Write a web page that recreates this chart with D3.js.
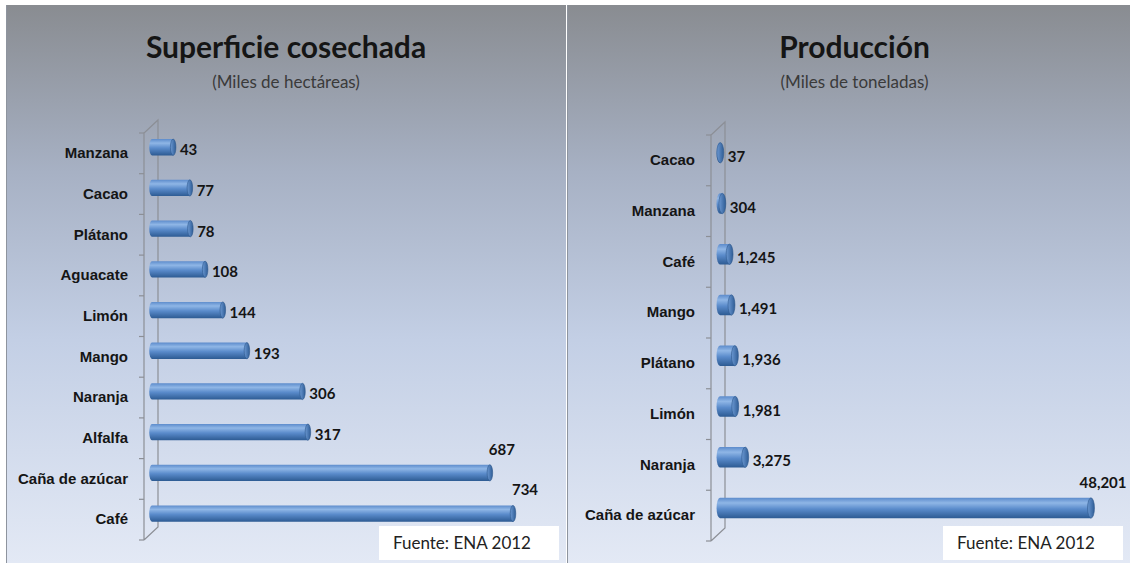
<!DOCTYPE html>
<html lang="es">
<meta charset="utf-8">
<style>
body { margin: 0; background: #fff; }
svg { display: block; font-family: Lato, "Open Sans", sans-serif; }
.title { font-size: 30px; font-weight: bold; fill: #151515; }
.subtitle { font-size: 17px; fill: #3a3a3a; }
.cat { font-size: 15px; font-weight: bold; fill: #151515; }
.val { font-size: 15px; font-weight: bold; fill: #151515; }
.wall { fill: none; stroke: #8c8f96; stroke-width: 1.2; }
.src { font-size: 17px; fill: #222; }
</style>
<body>
<svg width="1130" height="563"></svg>
<script src="https://d3js.org/d3.v7.min.js"></script>
<script>

// left chart: harvested area (thousand ha)
var areaCrops = ["Manzana", "Cacao", "Plátano", "Aguacate", "Limón", "Mango", "Naranja", "Alfalfa", "Caña de azúcar", "Café"];
var areaValues = [43, 77, 78, 108, 144, 193, 306, 317, 687, 734];

// right chart: production (thousand t)
var prodCrops = ["Cacao", "Manzana", "Café", "Mango", "Plátano", "Limón", "Naranja", "Caña de azúcar"];
var prodValues = [37, 304, 1245, 1491, 1936, 1981, 3275, 48201];

var titles = ["Superficie cosechada", "Producción"];
var subtitles = ["(Miles de hectáreas)", "(Miles de toneladas)"];
var source = "Fuente: ENA 2012";

var svg = d3.select("svg");
var defs = svg.append("defs");

var bg = defs.append("linearGradient").attr("id", "bg")
    .attr("x1", 0).attr("y1", 0).attr("x2", 0).attr("y2", 1);
bg.append("stop").attr("offset", "0%").attr("stop-color", "#898c91");
bg.append("stop").attr("offset", "30%").attr("stop-color", "#a7b1c4");
bg.append("stop").attr("offset", "60%").attr("stop-color", "#c3cfe5");
bg.append("stop").attr("offset", "100%").attr("stop-color", "#e3e9f5");

var cyl = defs.append("linearGradient").attr("id", "cyl")
    .attr("x1", 0).attr("y1", 0).attr("x2", 0).attr("y2", 1);
cyl.append("stop").attr("offset", "0%").attr("stop-color", "#5d8ccc");
cyl.append("stop").attr("offset", "25%").attr("stop-color", "#8fb6e6");
cyl.append("stop").attr("offset", "55%").attr("stop-color", "#5a8bcb");
cyl.append("stop").attr("offset", "100%").attr("stop-color", "#2d5b93");

var cap = defs.append("linearGradient").attr("id", "cap")
    .attr("x1", 0).attr("y1", 0).attr("x2", 1).attr("y2", 0);
cap.append("stop").attr("offset", "0%").attr("stop-color", "#6b98d2");
cap.append("stop").attr("offset", "100%").attr("stop-color", "#2f5d96");

svg.append("rect").attr("x", 0).attr("y", 0).attr("width", 1130).attr("height", 563).attr("fill", "#fff");

var fmt = d3.format(",");

function panel(opts) {
  var g = svg.append("g");

  g.append("rect")
      .attr("x", opts.left).attr("y", 5)
      .attr("width", opts.right - opts.left).attr("height", 563 - 5)
      .attr("fill", "url(#bg)");
  g.append("line")
      .attr("x1", opts.left + 0.5).attr("x2", opts.left + 0.5)
      .attr("y1", 5).attr("y2", 563)
      .attr("stroke", "#8e949e").attr("stroke-width", 1);

  var cx = (opts.left + opts.right) / 2 + opts.titleShift;
  g.append("text").attr("class", "title")
      .attr("x", cx).attr("y", 58).attr("text-anchor", "middle")
      .text(opts.title);
  g.append("text").attr("class", "subtitle")
      .attr("x", cx).attr("y", 88).attr("text-anchor", "middle")
      .text(opts.subtitle);

  var y = d3.scaleBand()
      .domain(opts.cats)
      .range([opts.top, opts.bottom])
      .paddingInner(0).paddingOuter(0);

  var x = d3.scaleLinear()
      .domain([0, d3.max(opts.values)])
      .range([opts.x0, opts.x1]);

  var step = y.step(),
      bh = step * 0.4,
      lift = step * 0.15,
      rx = bh * 0.17,
      dx = 14, dy = 13;

  // 3d wall of the category axis
  var f = opts.axisX;
  g.append("path").attr("class", "wall")
      .attr("d", "M" + f + "," + opts.bottom + "V" + opts.top +
                 "L" + (f + dx) + "," + (opts.top - dy) +
                 "V" + (opts.bottom - dy) + "L" + f + "," + opts.bottom);
  g.selectAll(".tk")
      .data(d3.range(opts.cats.length + 1))
    .enter().append("line")
      .attr("x1", f - 5).attr("x2", f)
      .attr("y1", function(i) { return opts.top + i * step; })
      .attr("y2", function(i) { return opts.top + i * step; })
      .attr("stroke", "#8c8f96").attr("stroke-width", 1.2);

  // category labels
  g.append("g")
      .attr("transform", "translate(" + (f - 12) + ",0)")
      .call(d3.axisLeft(y).tickSize(0).tickPadding(4))
      .call(function(a) { a.select(".domain").remove(); })
      .selectAll("text")
      .attr("class", "cat")
      .attr("fill", null)
      .attr("font-family", null).attr("font-size", null);

  var rows = opts.cats.map(function(c, i) { return {cat: c, v: opts.values[i]}; });

  var bar = g.selectAll(".bar").data(rows).enter().append("g")
      .attr("transform", function(d) { return "translate(0," + (y(d.cat) + step / 2 - lift) + ")"; });

  bar.append("path")
      .attr("d", function(d) {
        var a = x(0), b = x(d.v), h = bh / 2;
        return "M" + b + "," + (-h) + "H" + a +
               "A" + rx + "," + h + " 0 0 0 " + a + "," + h +
               "H" + b + "Z";
      })
      .attr("fill", "url(#cyl)");

  bar.append("ellipse")
      .attr("cx", function(d) { return x(d.v); })
      .attr("rx", rx).attr("ry", bh / 2)
      .attr("fill", "url(#cap)")
      .attr("stroke", "#2d578b").attr("stroke-width", 0.6);

  // long bars get their label above the end
  var above = function(d) { return x(d.v) > opts.x1 * 0.8 + opts.x0 * 0.2; };
  bar.append("text").attr("class", "val")
      .attr("x", function(d) { return above(d) ? x(d.v) + 12 : x(d.v) + rx + 4; })
      .attr("y", function(d) { return above(d) ? -bh / 2 - 10 : bh * 0.3 + 3; })
      .attr("text-anchor", function(d) { return above(d) ? "middle" : "start"; })
      .text(function(d) { return fmt(d.v); });

  // source box
  g.append("rect")
      .attr("x", opts.right - 7 - 180).attr("y", 526)
      .attr("width", 180).attr("height", 34)
      .attr("fill", "#fff");
  g.append("text").attr("class", "src")
      .attr("x", opts.right - 7 - 180 + 14).attr("y", 549)
      .text(source);
}

panel({
  left: 6, right: 566, titleShift: 0,
  title: titles[0], subtitle: subtitles[0],
  cats: areaCrops, values: areaValues,
  top: 133, bottom: 540, axisX: 144, x0: 152, x1: 513
});

panel({
  left: 567, right: 1130, titleShift: 6,
  title: titles[1], subtitle: subtitles[1],
  cats: prodCrops, values: prodValues,
  top: 135, bottom: 541, axisX: 711, x0: 720, x1: 1091
});

</script>
</body>
</html>
